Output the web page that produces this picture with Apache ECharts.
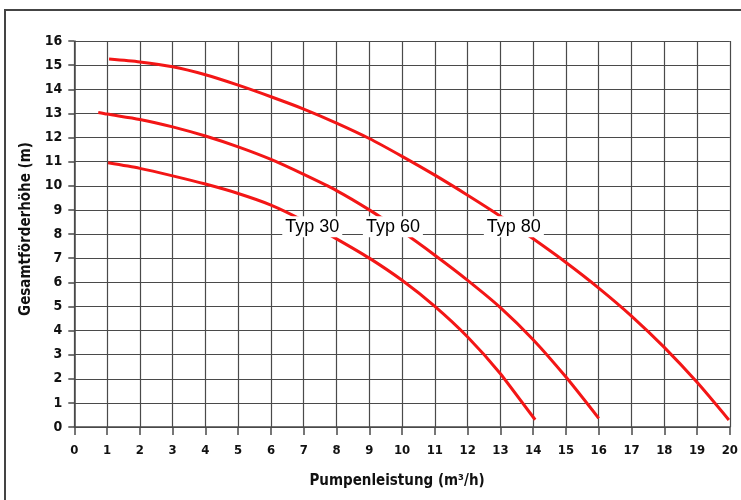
<!DOCTYPE html>
<html>
<head>
<meta charset="utf-8">
<script src="https://cdn.jsdelivr.net/npm/echarts@6/dist/echarts.min.js"></script>
<style>
  html, body { margin: 0; padding: 0; background: #fff; }
  #frame { position: absolute; left: 4px; top: 9px; width: 900px; height: 700px; border: 2px solid #444; box-sizing: border-box; }
  #chart { position: absolute; left: 0; top: 0; width: 741px; height: 500px; }
</style>
</head>
<body>
<div id="frame"></div>
<div id="chart"></div>
<script>
// X ticks / Y ticks
const xTicks = [0,1,2,3,4,5,6,7,8,9,10,11,12,13,14,15,16,17,18,19,20];
const yTicks = [0,1,2,3,4,5,6,7,8,9,10,11,12,13,14,15,16];

// Typ 30
const typ30X = [1.03, 2, 3, 4, 5, 6, 7, 8, 9, 10, 11, 12, 13, 14.06];
const typ30Y = [10.95, 10.72, 10.41, 10.07, 9.68, 9.2, 8.55, 7.8, 7.0, 6.08, 5.0, 3.73, 2.21, 0.3];

// Typ 60
const typ60X = [0.73, 1, 2, 3, 4, 5, 6, 7, 8, 9, 10, 11, 12, 13, 14, 15, 16];
const typ60Y = [13.04, 12.97, 12.75, 12.44, 12.06, 11.61, 11.09, 10.47, 9.8, 9.0, 8.1, 7.12, 6.08, 4.95, 3.62, 2.07, 0.36];

// Typ 80
const typ80X = [1.06, 2, 3, 4, 5, 6, 7, 8, 9, 10, 11, 12, 13, 14, 15, 16, 17, 18, 19, 19.97];
const typ80Y = [15.25, 15.13, 14.93, 14.6, 14.17, 13.69, 13.18, 12.6, 11.96, 11.22, 10.44, 9.61, 8.74, 7.8, 6.82, 5.76, 4.6, 3.3, 1.85, 0.29];

// Curve labels
const labelNames = ['Typ 30', 'Typ 60', 'Typ 80'];
const labelX = [7.26, 9.72, 13.41];
const labelY = [8.3, 8.3, 8.3];

const xName = 'Pumpenleistung (m³/h)';
const yName = 'Gesamtförderhöhe (m)';

const zip = (xs, ys) => xs.map((x, i) => [x, ys[i]]);
const narrow = '"Liberation Sans Narrow", "DejaVu Sans Condensed", "Roboto Condensed", sans-serif';
const gridColor = '#4a4a4a';
const red = '#f31616';

const chart = echarts.init(document.getElementById('chart'), null, { renderer: 'canvas' });

const curveSeries = (name, xs, ys) => ({
  name, type: 'line', data: zip(xs, ys), smooth: 0.25, showSymbol: false, symbol: 'none',
  lineStyle: { color: red, width: 3 }, z: 3, silent: true
});

chart.setOption({
  backgroundColor: 'transparent',
  animation: false,
  grid: { left: 74.3, right: 4.7, top: 41, bottom: 73, containLabel: false },
  xAxis: {
    type: 'value', min: xTicks[0], max: xTicks[xTicks.length - 1], interval: 1,
    name: xName, nameLocation: 'middle', nameGap: 47,
    nameTextStyle: { fontFamily: narrow, fontWeight: 'bold', fontSize: 15, color: '#111', padding: [0, 10, 0, 0] },
    axisLine: { show: true, lineStyle: { color: gridColor, width: 1.5 } },
    axisTick: { show: true, length: 8, lineStyle: { color: gridColor, width: 1.5 } },
    axisLabel: { margin: 17, fontFamily: narrow, fontWeight: 'bold', fontSize: 13, color: '#111',
      formatter: v => xTicks.includes(v) ? String(v) : '' },
    splitLine: { show: true, lineStyle: { color: gridColor, width: 1.2 } }
  },
  yAxis: {
    type: 'value', min: yTicks[0], max: yTicks[yTicks.length - 1], interval: 1,
    name: yName, nameLocation: 'middle', nameGap: 41, nameRotate: 90,
    nameTextStyle: { fontFamily: narrow, fontWeight: 'bold', fontSize: 15, color: '#111', padding: [0, 0, 0, 10] },
    axisLine: { show: true, lineStyle: { color: gridColor, width: 1.5 } },
    axisTick: { show: true, length: 6, lineStyle: { color: gridColor, width: 1.5 } },
    axisLabel: { margin: 12, fontFamily: narrow, fontWeight: 'bold', fontSize: 14, color: '#111',
      formatter: v => yTicks.includes(v) ? String(v) : '' },
    splitLine: { show: true, lineStyle: { color: gridColor, width: 1.2 } }
  },
  series: [
    curveSeries('Typ 30', typ30X, typ30Y),
    curveSeries('Typ 60', typ60X, typ60Y),
    curveSeries('Typ 80', typ80X, typ80Y),
    {
      type: 'scatter', symbolSize: 0, z: 10, silent: true,
      itemStyle: { opacity: 1 },
      data: labelNames.map((n, i) => ({ value: [labelX[i], labelY[i]], name: n })),
      label: {
        show: true, position: 'inside', formatter: p => p.name, opacity: 1,
        fontFamily: '"Liberation Sans", Arial, sans-serif', fontSize: 18, color: '#000',
        backgroundColor: '#ffffff', padding: [1, 3, 0, 3], lineHeight: 20
      }
    }
  ]
});
</script>
</body>
</html>
